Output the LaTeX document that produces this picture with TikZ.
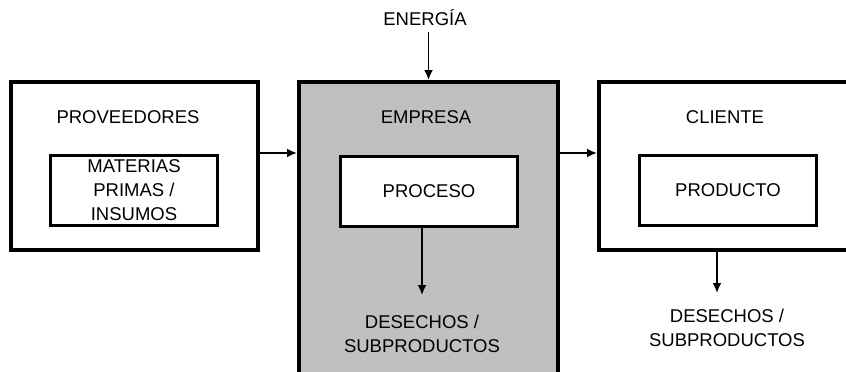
\documentclass[tikz,border=0pt]{standalone}
\usepackage{fontspec}
\setmainfont{Liberation Sans}
\usetikzlibrary{arrows.meta, positioning, calc}
\definecolor{empgray}{RGB}{192,192,192}
\tikzstyle{outer} = [rectangle, draw=black, line width=4pt, fill=white, inner sep=0pt]
\tikzstyle{inner} = [rectangle, draw=black, line width=3pt, fill=white, minimum width=177pt, minimum height=70pt, text centered, inner sep=0pt]
\tikzstyle{label} = [text centered, align=center, inner sep=0pt]
\tikzstyle{arrow} = [line width=1.8pt, -{Latex[length=10pt,width=9pt]}]

\begin{document}
\begin{tikzpicture}[
        x=1pt, y=-1pt,
        every node/.style={font=\fontsize{18.5}{24}\selectfont}
    ]
        \useasboundingbox (0,0) rectangle (846,372);
        \clip (0,0) rectangle (846,372);

        % Boxes
        \node (prov) [outer, minimum width=247pt, minimum height=168pt] at (134.5,166) {};
        \node (emp) [outer, fill=empgray, minimum width=259pt, minimum height=318pt] at (428.5,241) {};
        \node (cli) [outer, minimum width=261pt, minimum height=168pt] at (729.5,166) {};

        % Inner boxes
        \node (mat) [inner, minimum width=167pt] at (134,190.5) {};
        \node (proc) [inner] at (429,191) {PROCESO};
        \node (prod) [inner] at (728,190.5) {PRODUCTO};
        \node [label] at (mat) {MATERIAS\\PRIMAS /\\INSUMOS};

        % Labels
        \node (provlabel) [label] at (128,117) {PROVEEDORES};
        \node (emplabel) [label] at (426,117) {EMPRESA};
        \node (clilabel) [label] at (725,117) {CLIENTE};
        \node (energia) [label] at (425,18) {ENERGÍA};
        \node (desemp) [label] at (422,334) {DESECHOS /\\SUBPRODUCTOS};
        \node (descli) [label] at (727,328) {DESECHOS /\\SUBPRODUCTOS};

        % Arrows
        \draw [arrow] ($(prov.east |- mat.north)+(0,-1)$) -- ($(emp.west |- mat.north)+(0,-1)$);
        \draw [arrow] ($(emp.east |- prod.north)+(0,-1)$) -- ($(cli.west |- prod.north)+(0,-1)$);
        \draw [arrow] ($(emp.north |- energia.south)+(0,6)$) -- (emp.north);
        \draw [arrow] (proc.south -| desemp.north) -- ($(desemp.north)+(0,-20)$);
        \draw [arrow] ($(cli.south -| descli.north)+(-10,0)$) -- ($(descli.north)+(-10,-16)$);

    \end{tikzpicture}
\end{document}
